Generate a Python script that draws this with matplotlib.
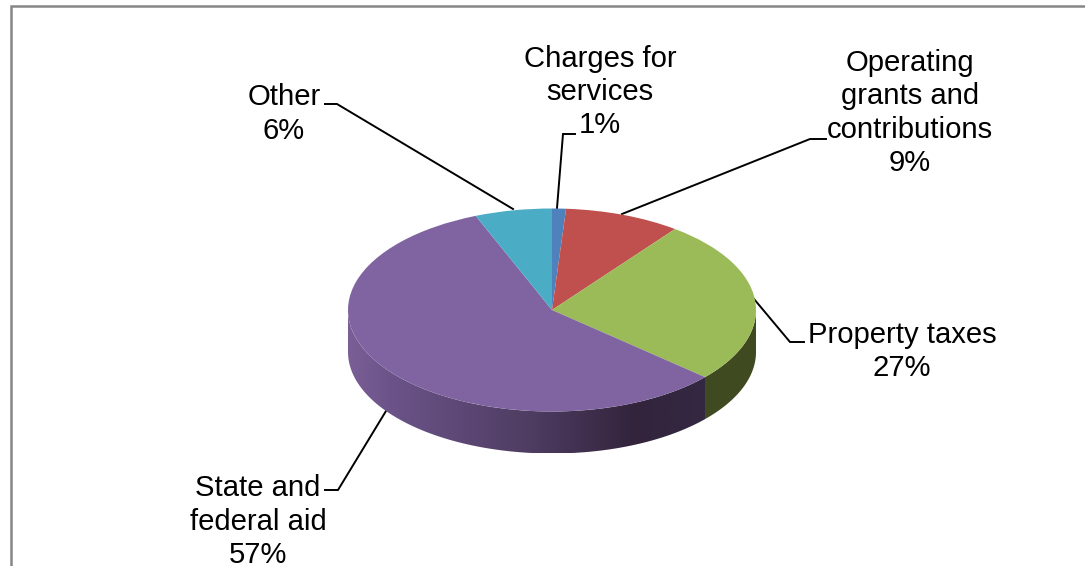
import numpy as np
import matplotlib
matplotlib.use("Agg")
import matplotlib.pyplot as plt
from matplotlib.patches import Polygon

plt.rcParams['font.family'] = ['Liberation Sans', 'DejaVu Sans']

W, H = 1085, 566

# clockwise from the top, like the original
categories = ["Charges for\nservices", "Operating\ngrants and\ncontributions",
              "Property taxes", "State and\nfederal aid", "Other"]
# slice sizes (the labels are rounded)
values = [1.1, 9.2, 26.2, 57.4, 6.1]
pct_labels = ["1%", "9%", "27%", "57%", "6%"]
colors = ["#4f81bd", "#c0504d", "#9bbb59", "#8064a2", "#4bacc6"]

# pie geometry in pixels
cx, cy = 552, 310
rx, ry = 204, 101.5
depth = 42

fig = plt.figure(figsize=(W / 100, H / 100), dpi=100)
bg = fig.add_axes([0, 0, 1, 1])
bg.axis("off")

# chart frame, cut off by the image on the right and bottom
bg.plot([11, 11, W], [H, 6, 6], color="#868686", lw=1.8, solid_capstyle="butt",
        solid_joinstyle="miter")

# slice edges, degrees clockwise from the top
edges = np.cumsum([0] + values) / sum(values) * 360


def rim(a0, a1, n=120):
    a = np.radians(np.linspace(a0, a1, n))
    return cx + rx * np.sin(a), cy - ry * np.cos(a)


# green wall, flat dark
x, y = rim(90, edges[3])
bg.add_patch(Polygon(np.r_[np.c_[x, y], np.c_[x[::-1], y[::-1] + depth]],
                     fc="#3f4a20", ec="none", zorder=2))

# purple wall, gradient clipped to the wall shape
x, y = rim(edges[3], 270)
wall = Polygon(np.r_[np.c_[x, y], np.c_[x[::-1], y[::-1] + depth]],
               fc="none", ec="none", zorder=2)
bg.add_patch(wall)
cmap = matplotlib.colors.LinearSegmentedColormap.from_list(
    "wall", [(0, "#7a5f96"), (0.12, "#6b5388"), (0.5, "#4f3d63"),
             (0.8, "#33243c"), (1, "#332842")])
grad = bg.imshow(np.linspace(0, 1, 256)[None, :], cmap=cmap, aspect="auto",
                 extent=[cx - rx, x[0], cy + ry + depth, cy], zorder=2)
grad.set_clip_path(wall)
bg.set_xlim(0, W)
bg.set_ylim(H, 0)

# top face, ax.pie squashed into an ellipse
ax = fig.add_axes([(cx - rx) / W, 1 - (cy + ry) / H, 2 * rx / W, 2 * ry / H])
ax.pie(values, colors=colors, startangle=90, counterclock=False, radius=1,
       wedgeprops={"linewidth": 0})
ax.set_aspect("auto")
ax.set_xlim(-1, 1)
ax.set_ylim(-1, 1)
ax.patch.set_alpha(0)

# labels
label_pos = [(600, 92), (910, 113), (902, 351.5), (258, 521.5), (284, 114)]
for name, pct, (lx, ly) in zip(categories, pct_labels, label_pos):
    bg.text(lx, ly, name + "\n" + pct, ha="center", va="center",
            fontsize=21.1, color="black", linespacing=1.24)

# leader lines
lines = [
    ([575, 563, 557], [134, 134, 208]),
    ([826, 810, 622], [139, 139, 214]),
    ([804, 790, 754], [342, 342, 299]),
    ([325, 338, 386], [490, 490, 411]),
    ([325, 337, 513], [104, 104, 209]),
]
for xs, ys in lines:
    bg.plot(xs, ys, color="black", lw=1.4, solid_joinstyle="miter", zorder=1.5)

fig.savefig("out.png", dpi=100)
